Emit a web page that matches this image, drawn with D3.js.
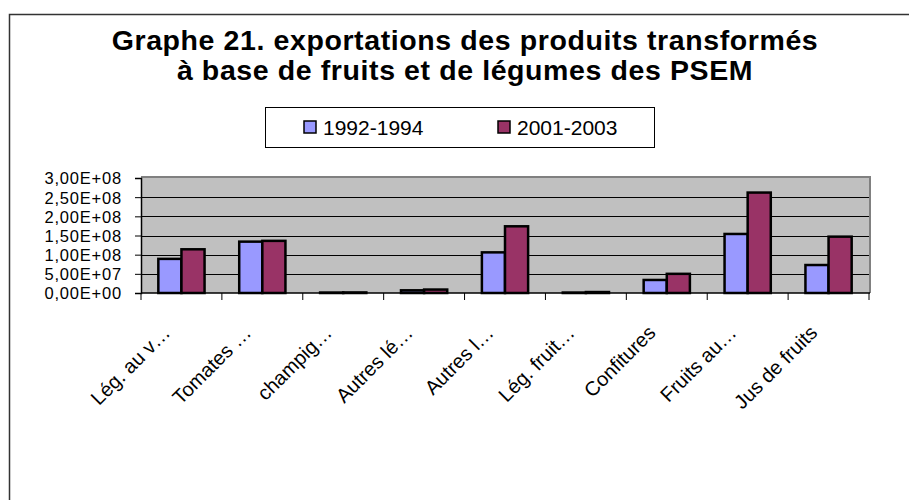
<!DOCTYPE html>
<html>
<head>
<meta charset="utf-8">
<script src="https://cdn.jsdelivr.net/npm/d3@7"></script>
<style>
  body { margin: 0; background: #fff; }
  text { font-family: "Liberation Sans", Arial, sans-serif; }
</style>
</head>
<body>
<div id="chart"></div>
<script>
// data
var categories = ["Lég. au v…", "Tomates …", "champig…", "Autres lé…", "Autres l…",
                  "Lég. fruit…", "Confitures", "Fruits au…", "Jus de fruits"];
var series = ["1992-1994", "2001-2003"];
var values1992 = [8.9e7, 1.34e8, 1.2e6, 7e6, 1.06e8, 1.2e6, 3.4e7, 1.54e8, 7.3e7];
var values2001 = [1.14e8, 1.36e8, 1.5e6, 9e6, 1.74e8, 2.5e6, 5.0e7, 2.62e8, 1.47e8];
var yTicks = [0, 5e7, 1e8, 1.5e8, 2e8, 2.5e8, 3e8];

var width = 914, height = 500;
var plot = { left: 141, right: 869, top: 178, bottom: 293 };
var colors = ["#9999ff", "#993366"];

var svg = d3.select("#chart").append("svg")
    .attr("width", width)
    .attr("height", height);

// outer chart frame (right/bottom edges fall outside the picture)
svg.append("path")
    .attr("d", "M9.5,500 L9.5,14.5 L909,14.5")
    .attr("fill", "none")
    .attr("stroke", "#333")
    .attr("stroke-width", 1.5);

// title
var title = svg.append("text")
    .attr("text-anchor", "middle")
    .style("font-weight", "bold")
    .style("font-size", "28.5px")
    .style("letter-spacing", "0.6px");
title.append("tspan").attr("x", 465).attr("y", 50)
    .text("Graphe 21. exportations des produits transformés");
title.append("tspan").attr("x", 465).attr("y", 80)
    .text("à base de fruits et de légumes des PSEM");

// legend
var legend = svg.append("g");
legend.append("rect")
    .attr("x", 265.5).attr("y", 107.5)
    .attr("width", 389).attr("height", 40)
    .attr("fill", "#fff").attr("stroke", "#000");
var legendX = [304, 498];
series.forEach(function(s, i) {
  legend.append("rect")
      .attr("x", legendX[i]).attr("y", 121)
      .attr("width", 12).attr("height", 12)
      .attr("fill", colors[i]).attr("stroke", "#000").attr("stroke-width", 1.5);
  legend.append("text")
      .attr("x", legendX[i] + 19).attr("y", 134.5)
      .style("font-size", "21px")
      .text(s);
});

// scales
var x = d3.scaleBand()
    .domain(categories)
    .range([plot.left, plot.right])
    .paddingInner(1.5 / 3.5)
    .paddingOuter(0.75 / 3.5);

var xSub = d3.scaleBand()
    .domain(series)
    .range([0, x.bandwidth()]);

var y = d3.scaleLinear()
    .domain([0, 3e8])
    .range([plot.bottom, plot.top]);

function sciFormat(v) {
  if (v === 0) return "0,00E+00";
  var e = Math.floor(Math.log10(v));
  var m = v / Math.pow(10, e);
  return m.toFixed(2).replace(".", ",") + "E+" + (e < 10 ? "0" : "") + e;
}

// plot background
svg.append("rect")
    .attr("x", plot.left).attr("y", plot.top)
    .attr("width", plot.right - plot.left)
    .attr("height", plot.bottom - plot.top)
    .attr("fill", "#c0c0c0");

// gridlines
svg.append("g")
    .selectAll("line")
    .data(yTicks.slice(1, -1))
    .enter().append("line")
    .attr("x1", plot.left).attr("x2", plot.right)
    .attr("y1", function(d) { return Math.round(y(d)) + 0.5; })
    .attr("y2", function(d) { return Math.round(y(d)) + 0.5; })
    .attr("stroke", "#000");

// plot border top/right
svg.append("path")
    .attr("d", "M" + plot.left + "," + (plot.top - 1) + " L" + (plot.right + 1) + "," + (plot.top - 1) +
               " L" + (plot.right + 1) + "," + plot.bottom)
    .attr("fill", "none")
    .attr("stroke", "#808080")
    .attr("stroke-width", 2);

// bars
var rows = categories.map(function(c, i) {
  return { cat: c, vals: [values1992[i], values2001[i]] };
});

var groups = svg.append("g")
    .selectAll("g")
    .data(rows)
    .enter().append("g")
    .attr("transform", function(d) { return "translate(" + x(d.cat) + ",0)"; });

groups.selectAll("rect")
    .data(function(d) { return d.vals.map(function(v, i) { return { s: series[i], v: v, i: i }; }); })
    .enter().append("rect")
    .attr("x", function(d) { return xSub(d.s); })
    .attr("y", function(d) { return y(d.v); })
    .attr("width", xSub.bandwidth())
    .attr("height", function(d) { return y(0) - y(d.v); })
    .attr("fill", function(d) { return colors[d.i]; })
    .attr("stroke", "#000")
    .attr("stroke-width", 2.5);

// y axis
var yAxis = svg.append("g")
    .attr("transform", "translate(" + plot.left + ",0)")
    .call(d3.axisLeft(y).tickValues(yTicks).tickFormat(sciFormat).tickSize(6).tickPadding(13));
yAxis.select(".domain").attr("stroke", "#000").attr("stroke-width", 1.5);
yAxis.selectAll("text").style("font-size", "16.5px").style("letter-spacing", "0.8px")
    .attr("fill", "#000").attr("font-family", null).attr("dy", "0.36em");

// x axis with ticks on category boundaries
var bounds = d3.range(categories.length + 1).map(function(i) {
  return plot.left + i * x.step();
});
var xAxis = svg.append("g");
xAxis.append("line")
    .attr("x1", plot.left).attr("x2", plot.right + 1)
    .attr("y1", plot.bottom).attr("y2", plot.bottom)
    .attr("stroke", "#000").attr("stroke-width", 1.5);
xAxis.selectAll(".tick")
    .data(bounds)
    .enter().append("line")
    .attr("x1", function(d) { return d; }).attr("x2", function(d) { return d; })
    .attr("y1", plot.bottom).attr("y2", plot.bottom + 7)
    .attr("stroke", "#000");

xAxis.selectAll(".lab")
    .data(categories)
    .enter().append("text")
    .attr("text-anchor", "end")
    .attr("transform", function(d) {
      var cx = x(d) + x.bandwidth() / 2;
      return "translate(" + (cx - 10) + "," + 334 + ") rotate(-45)";
    })
    .style("font-size", "20px")
    .text(function(d) { return d; });
</script>
</body>
</html>
